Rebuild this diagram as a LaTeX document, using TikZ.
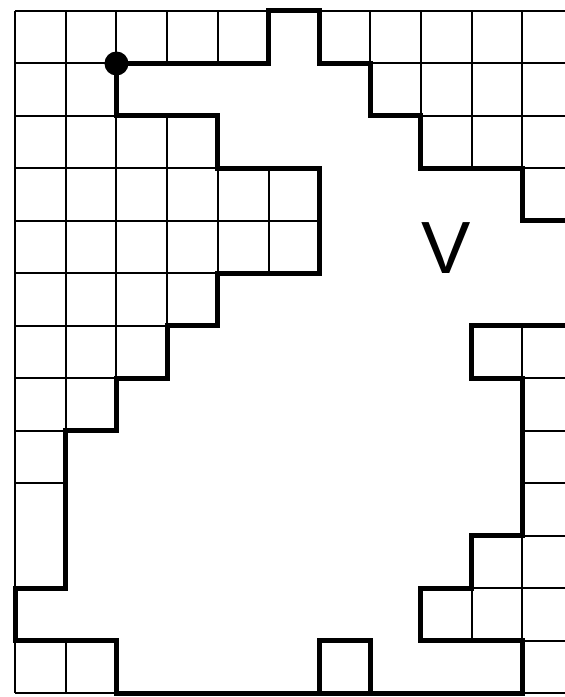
\documentclass[tikz,border=0pt]{standalone}
\usepackage{fontspec}
\setmainfont{Liberation Sans}
\begin{document}
\begin{tikzpicture}[x={(50.73pt,0pt)},y={(0pt,-52.5pt)},shift={(15pt,-11pt)},
  thinline/.style={line width=2pt},
  thickline/.style={line width=5pt,line cap=rect,line join=miter},
  label/.style={inner sep=0pt,font=\fontsize{74}{74}\selectfont}]
\useasboundingbox (-0.2957,-0.2095) rectangle (10.842,13.067);
\clip (-0.2957,-0.2095) rectangle (10.842,13.067);
% thin grid
\foreach \c in {0,...,11} \draw[thinline] (\c,0) -- (\c,13);
\foreach \r in {0,...,9,11,12,13} \draw[thinline] (0,\r) -- (11.5,\r);
\draw[thinline] (1,10) -- (11.5,10);
% region V
\fill[white] (2,1) -- (5,1) -- (5,0) -- (6,0) -- (6,1) -- (7,1) -- (7,2) -- (8,2) -- (8,3) -- (10,3) -- (10,4) -- (11.5,4) -- (11.5,6) -- (9,6) -- (9,7) -- (10,7) -- (10,10) -- (9,10) -- (9,11) -- (8,11) -- (8,12) -- (10,12) -- (10,13) -- (7,13) -- (7,12) -- (6,12) -- (6,13) -- (2,13) -- (2,12) -- (0,12) -- (0,11) -- (1,11) -- (1,8) -- (2,8) -- (2,7) -- (3,7) -- (3,6) -- (4,6) -- (4,5) -- (6,5) -- (6,3) -- (4,3) -- (4,2) -- (2,2) -- cycle;
\draw[thickline] (2,1) -- (5,1) -- (5,0) -- (6,0) -- (6,1) -- (7,1) -- (7,2) -- (8,2) -- (8,3) -- (10,3) -- (10,4) -- (11.5,4) -- (11.5,6) -- (9,6) -- (9,7) -- (10,7) -- (10,10) -- (9,10) -- (9,11) -- (8,11) -- (8,12) -- (10,12) -- (10,13) -- (7,13) -- (7,12) -- (6,12) -- (6,13) -- (2,13) -- (2,12) -- (0,12) -- (0,11) -- (1,11) -- (1,8) -- (2,8) -- (2,7) -- (3,7) -- (3,6) -- (4,6) -- (4,5) -- (6,5) -- (6,3) -- (4,3) -- (4,2) -- (2,2) -- cycle;
\draw[thickline] (2,13) -- (10,13);
\fill (2,1) circle[radius=12pt];
\node[label] (v) at (8.5,4.51) {V};
\end{tikzpicture}
\end{document}
